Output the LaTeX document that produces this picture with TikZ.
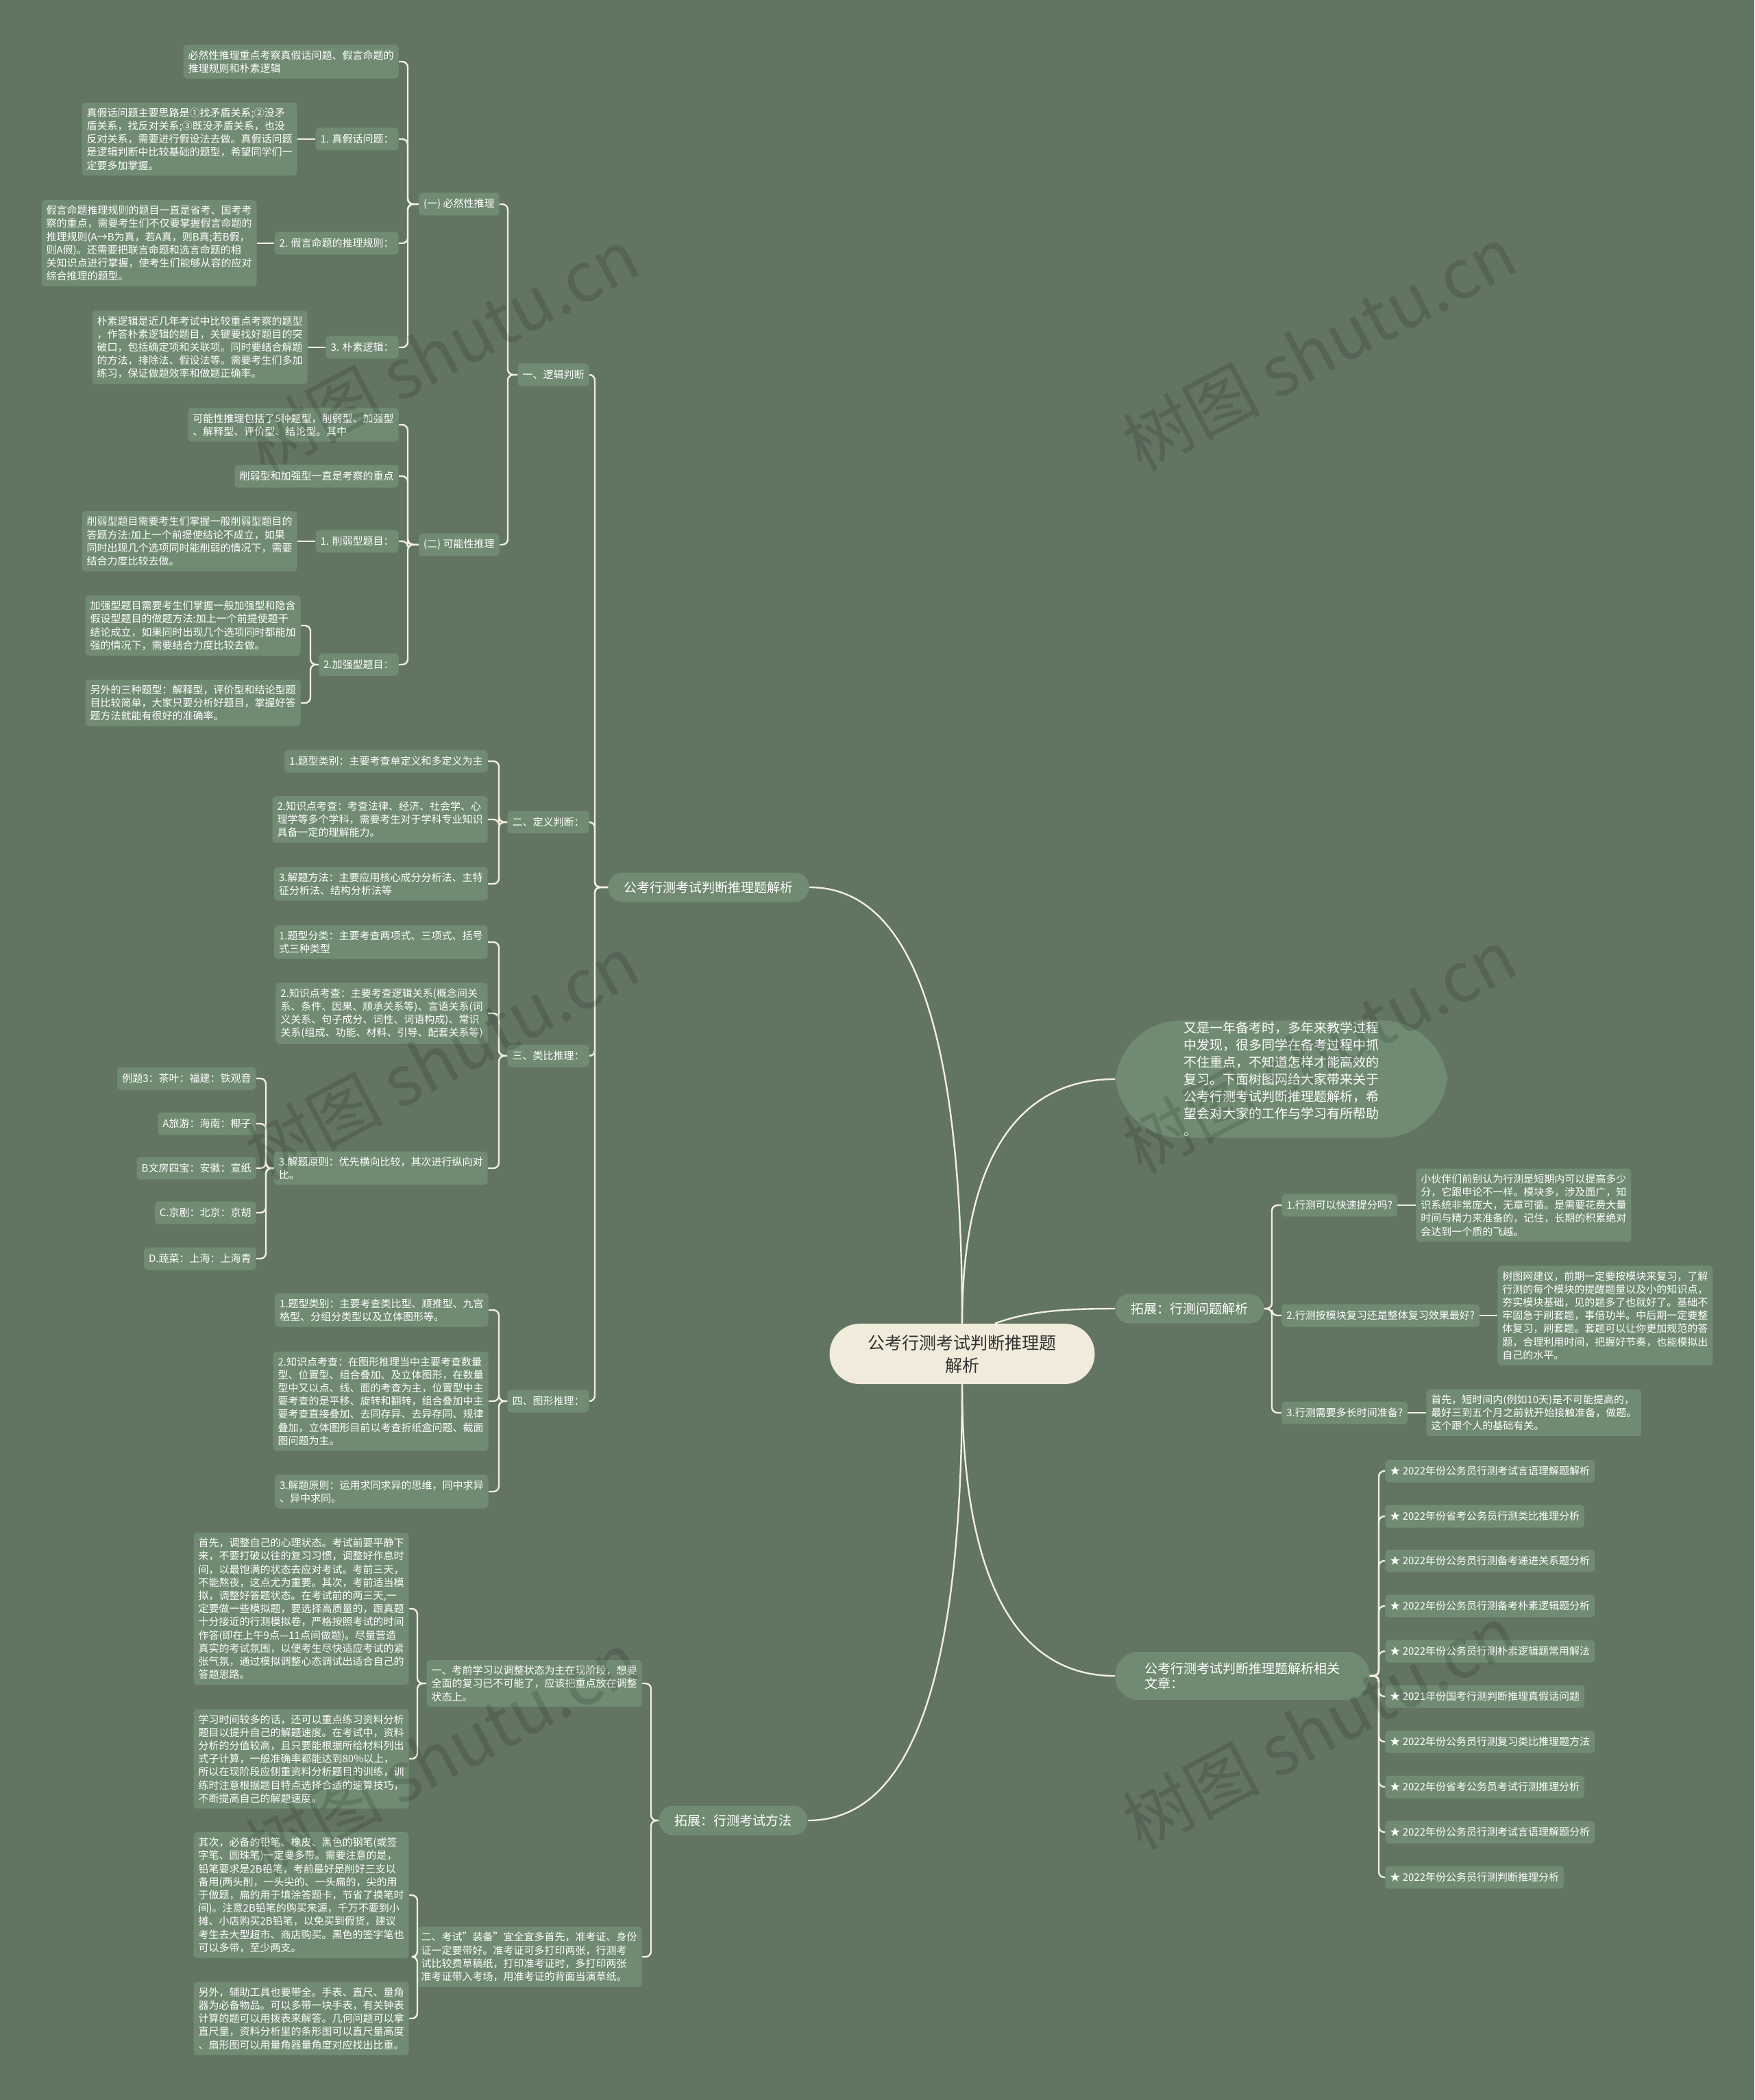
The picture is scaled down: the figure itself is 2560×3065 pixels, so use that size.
\documentclass[tikz,border=0pt]{standalone}
\usepackage{fontspec}
\setmainfont{Noto Sans CJK SC}
\newfontfamily\wmfont{Noto Sans CJK SC}
\definecolor{bgcol}{RGB}{98,116,98}
\definecolor{nodefill}{RGB}{112,139,113}
\definecolor{linecol}{RGB}{243,239,222}
\definecolor{centerfill}{RGB}{240,235,219}
\definecolor{centertext}{RGB}{50,50,50}
\newcommand\mmL[3]{\draw[conn] (#1.west) -- (#1.west -| #2) |- (#3.east);}
\newcommand\mmR[3]{\draw[conn] (#1.east) -- (#1.east -| #2) |- (#3.west);}
\begin{document}
\begin{tikzpicture}[x=0.5pt,y=-0.5pt,
  base/.style={fill=nodefill, text=white, align=left},
  lvl/.style={base, rounded corners=2.5pt, font=\fontsize{7.5}{9.6}\selectfont, inner xsep=3.5pt, inner ysep=4pt, minimum height=16.5pt},
  mainb/.style={base, rounded corners=10.5pt, font=\fontsize{9.5}{11}\selectfont, inner xsep=11.5pt, minimum height=21.5pt},
  conn/.style={draw=linecol, line width=1.2pt, rounded corners=4pt},
  curve/.style={draw=linecol, line width=1.2pt},
  wm/.style={rotate=28, opacity=0.13, text=black, font=\fontsize{50}{50}\selectfont}
]
\fill[bgcol] (0,0) rectangle (2560,3065);
\useasboundingbox (0,0) rectangle (2560,3065);

% bus coordinates
\coordinate (kB1) at (868,0);
\coordinate (kL1) at (741,0);
\coordinate (kL1a) at (595,0);
\coordinate (kL1b2) at (453,0);
\coordinate (kL2) at (728,0);
\coordinate (kL33) at (388,0);
\coordinate (kB2) at (950,0);
\coordinate (kM) at (609,0);
\coordinate (kB3) at (1856,0);
\coordinate (kB4) at (2012,0);

% centre
\node[fill=centerfill, text=centertext, rounded corners=22pt, font=\fontsize{12.5}{16.5}\selectfont, align=center, inner xsep=28pt, inner ysep=8pt] (C) at (1404,1976) {公考行测考试判断推理题\\解析};

% main branches
\node[mainb, anchor=east] (B1) at (1181,1295) {公考行测考试判断推理题解析};
\node[mainb, anchor=east] (B2) at (1179,2657) {拓展：行测考试方法};
\node[base, rounded corners=48pt, font=\fontsize{9.5}{12.5}\selectfont, inner xsep=50pt, inner ysep=1pt, anchor=west] (I) at (1627,1575) {又是一年备考时，多年来教学过程\\中发现，很多同学在备考过程中抓\\不住重点，不知道怎样才能高效的\\复习。下面树图网给大家带来关于\\公考行测考试判断推理题解析，希\\望会对大家的工作与学习有所帮助\\。};
\node[mainb, anchor=west] (B3) at (1627,1910) {拓展：行测问题解析};
\node[mainb, rounded corners=17pt, inner xsep=21.5pt, inner ysep=7.75pt, anchor=west] (B4) at (1627,2446) {公考行测考试判断推理题解析相关\\文章：};

\draw[curve] (C.north) .. controls (1404,1500) and (1330,1295) .. (B1.east);
\draw[curve] (C.south) .. controls (1404,2450) and (1330,2657) .. (B2.east);
\draw[curve] (C.north) .. controls (1404,1700) and (1480,1575) .. (I.west);
\draw[curve] ([xshift=24pt]C.north) .. controls (1500,1914) and (1550,1910) .. (B3.west);
\draw[curve] (C.south) .. controls (1404,2300) and (1480,2446) .. (B4.west);

% ---------- left tree: branch 1 ----------
\node[lvl, anchor=east] (L1) at (860,547) {一、逻辑判断};
\node[lvl, anchor=east] (L2) at (860,1200) {二、定义判断：};
\node[lvl, anchor=east] (L3) at (860,1541) {三、类比推理：};
\node[lvl, anchor=east] (L4) at (860,2045) {四、图形推理：};
\mmL{B1}{kB1}{L1} \mmL{B1}{kB1}{L2} \mmL{B1}{kB1}{L3} \mmL{B1}{kB1}{L4}

\node[lvl, anchor=east] (L1a) at (729,298) {(一) 必然性推理};
\node[lvl, anchor=east] (L1b) at (729,795) {(二) 可能性推理};
\mmL{L1}{kL1}{L1a} \mmL{L1}{kL1}{L1b}

\node[lvl, anchor=east] (nBi) at (582,90) {必然性推理重点考察真假话问题、假言命题的\\推理规则和朴素逻辑};
\node[lvl, anchor=east] (L1a1) at (582,203) {1. 真假话问题：};
\node[lvl, anchor=east] (L1a2) at (582,355) {2. 假言命题的推理规则：};
\node[lvl, anchor=east] (L1a3) at (582,507) {3. 朴素逻辑：};
\mmL{L1a}{kL1a}{nBi} \mmL{L1a}{kL1a}{L1a1} \mmL{L1a}{kL1a}{L1a2} \mmL{L1a}{kL1a}{L1a3}

\node[lvl, anchor=east] (nA1) at (434,203) {真假话问题主要思路是①找矛盾关系;②没矛\\盾关系，找反对关系;③既没矛盾关系，也没\\反对关系，需要进行假设法去做。真假话问题\\是逻辑判断中比较基础的题型，希望同学们一\\定要多加掌握。};
\node[lvl, anchor=east] (nA2) at (375,355) {假言命题推理规则的题目一直是省考、国考考\\察的重点，需要考生们不仅要掌握假言命题的\\推理规则(A→B为真，若A真，则B真;若B假，\\则A假)。还需要把联言命题和选言命题的相\\关知识点进行掌握，使考生们能够从容的应对\\综合推理的题型。};
\node[lvl, anchor=east] (nA3) at (449,507) {朴素逻辑是近几年考试中比较重点考察的题型\\，作答朴素逻辑的题目，关键要找好题目的突\\破口，包括确定项和关联项。同时要结合解题\\的方法，排除法、假设法等。需要考生们多加\\练习，保证做题效率和做题正确率。};
\draw[conn] (L1a1.west) -- (nA1.east);
\draw[conn] (L1a2.west) -- (nA2.east);
\draw[conn] (L1a3.west) -- (nA3.east);

\node[lvl, anchor=east] (nKe) at (582,620) {可能性推理包括了5种题型，削弱型、加强型\\、解释型、评价型、结论型。其中};
\node[lvl, anchor=east] (nXr) at (582,695) {削弱型和加强型一直是考察的重点};
\node[lvl, anchor=east] (L1b1) at (582,790) {1. 削弱型题目：};
\node[lvl, anchor=east] (L1b2) at (582,970) {2.加强型题目：};
\mmL{L1b}{kL1a}{nKe} \mmL{L1b}{kL1a}{nXr} \mmL{L1b}{kL1a}{L1b1} \mmL{L1b}{kL1a}{L1b2}

\node[lvl, anchor=east] (nB1) at (434,790) {削弱型题目需要考生们掌握一般削弱型题目的\\答题方法:加上一个前提使结论不成立，如果\\同时出现几个选项同时能削弱的情况下，需要\\结合力度比较去做。};
\draw[conn] (L1b1.west) -- (nB1.east);
\node[lvl, anchor=east] (nB2a) at (439,913) {加强型题目需要考生们掌握一般加强型和隐含\\假设型题目的做题方法:加上一个前提使题干\\结论成立，如果同时出现几个选项同时都能加\\强的情况下，需要结合力度比较去做。};
\node[lvl, anchor=east] (nB2b) at (439,1026) {另外的三种题型：解释型，评价型和结论型题\\目比较简单，大家只要分析好题目，掌握好答\\题方法就能有很好的准确率。};
\mmL{L1b2}{kL1b2}{nB2a} \mmL{L1b2}{kL1b2}{nB2b}

% definition
\node[lvl, anchor=east] (D1) at (712,1111) {1.题型类别：主要考查单定义和多定义为主};
\node[lvl, anchor=east] (D2) at (712,1196) {2.知识点考查：考查法律、经济、社会学、心\\理学等多个学科，需要考生对于学科专业知识\\具备一定的理解能力。};
\node[lvl, anchor=east] (D3) at (712,1290) {3.解题方法：主要应用核心成分分析法、主特\\征分析法、结构分析法等};
\mmL{L2}{kL2}{D1} \mmL{L2}{kL2}{D2} \mmL{L2}{kL2}{D3}

% analogy
\node[lvl, anchor=east] (E1) at (712,1375) {1.题型分类：主要考查两项式、三项式、括号\\式三种类型};
\node[lvl, anchor=east] (E2) at (712,1479) {2.知识点考查：主要考查逻辑关系(概念间关\\系、条件、因果、顺承关系等)、言语关系(词\\义关系、句子成分、词性、词语构成)、常识\\关系(组成、功能、材料、引导、配套关系等)};
\node[lvl, anchor=east] (E3) at (712,1705) {3.解题原则：优先横向比较，其次进行纵向对\\比。};
\mmL{L3}{kL2}{E1} \mmL{L3}{kL2}{E2} \mmL{L3}{kL2}{E3}

\node[lvl, anchor=east] (X1) at (374,1574) {例题3：茶叶：福建：铁观音};
\node[lvl, anchor=east] (X2) at (374,1640) {A旅游：海南：椰子};
\node[lvl, anchor=east] (X3) at (374,1705) {B文房四宝：安徽：宣纸};
\node[lvl, anchor=east] (X4) at (374,1770) {C.京剧：北京：京胡};
\node[lvl, anchor=east] (X5) at (374,1837) {D.蔬菜：上海：上海青};
\mmL{E3}{kL33}{X1} \mmL{E3}{kL33}{X2} \mmL{E3}{kL33}{X3} \mmL{E3}{kL33}{X4} \mmL{E3}{kL33}{X5}

% figure
\node[lvl, anchor=east] (F1) at (713,1912) {1.题型类别：主要考查类比型、顺推型、九宫\\格型、分组分类型以及立体图形等。};
\node[lvl, anchor=east] (F2) at (713,2045) {2.知识点考查：在图形推理当中主要考查数量\\型、位置型、组合叠加、及立体图形，在数量\\型中又以点、线、面的考查为主，位置型中主\\要考查的是平移、旋转和翻转，组合叠加中主\\要考查直接叠加、去同存异、去异存同、规律\\叠加，立体图形目前以考查折纸盒问题、截面\\图问题为主。};
\node[lvl, anchor=east] (F3) at (713,2177) {3.解题原则：运用求同求异的思维，同中求异\\、异中求同。};
\mmL{L4}{kL2}{F1} \mmL{L4}{kL2}{F2} \mmL{L4}{kL2}{F3}

% ---------- left tree: branch 2 ----------
\node[lvl, anchor=east] (M1) at (937,2457) {一、考前学习以调整状态为主在现阶段，想要\\全面的复习已不可能了，应该把重点放在调整\\状态上。};
\node[lvl, anchor=east] (M2) at (937,2856) {二、考试"装备"宜全宜多首先，准考证、身份\\证一定要带好。准考证可多打印两张，行测考\\试比较费草稿纸，打印准考证时，多打印两张\\准考证带入考场，用准考证的背面当演草纸。};
\mmL{B2}{kB2}{M1} \mmL{B2}{kB2}{M2}

\node[lvl, anchor=east] (M1a) at (597,2348) {首先，调整自己的心理状态。考试前要平静下\\来，不要打破以往的复习习惯，调整好作息时\\间，以最饱满的状态去应对考试。考前三天，\\不能熬夜，这点尤为重要。其次，考前适当模\\拟，调整好答题状态。在考试前的两三天,一\\定要做一些模拟题，要选择高质量的，跟真题\\十分接近的行测模拟卷，严格按照考试的时间\\作答(即在上午9点—11点间做题)。尽量营造\\真实的考试氛围，以便考生尽快适应考试的紧\\张气氛，通过模拟调整心态调试出适合自己的\\答题思路。};
\node[lvl, anchor=east] (M1b) at (597,2567) {学习时间较多的话，还可以重点练习资料分析\\题目以提升自己的解题速度。在考试中，资料\\分析的分值较高，且只要能根据所给材料列出\\式子计算，一般准确率都能达到80\%以上，\\所以在现阶段应侧重资料分析题目的训练，训\\练时注意根据题目特点选择合适的速算技巧，\\不断提高自己的解题速度。};
\mmL{M1}{kM}{M1a} \mmL{M1}{kM}{M1b}

\node[lvl, anchor=east] (M2a) at (597,2766) {其次，必备的铅笔、橡皮、黑色的钢笔(或签\\字笔、圆珠笔)一定要多带。需要注意的是，\\铅笔要求是2B铅笔，考前最好是削好三支以\\备用(两头削，一头尖的、一头扁的，尖的用\\于做题，扁的用于填涂答题卡，节省了换笔时\\间)。注意2B铅笔的购买来源，千万不要到小\\摊、小店购买2B铅笔，以免买到假货，建议\\考生去大型超市、商店购买。黑色的签字笔也\\可以多带，至少两支。};
\node[lvl, anchor=east] (M2b) at (597,2946) {另外，辅助工具也要带全。手表、直尺、量角\\器为必备物品。可以多带一块手表，有关钟表\\计算的题可以用拨表来解答。几何问题可以拿\\直尺量，资料分析里的条形图可以直尺量高度\\、扇形图可以用量角器量角度对应找出比重。};
\mmL{M2}{kM}{M2a} \mmL{M2}{kM}{M2b}

% ---------- right tree ----------
\node[lvl, anchor=west] (Q1) at (1870,1759) {1.行测可以快速提分吗?};
\node[lvl, anchor=west] (Q2) at (1870,1920) {2.行测按模块复习还是整体复习效果最好?};
\node[lvl, anchor=west] (Q3) at (1870,2062) {3.行测需要多长时间准备?};
\mmR{B3}{kB3}{Q1} \mmR{B3}{kB3}{Q2} \mmR{B3}{kB3}{Q3}

\node[lvl, anchor=west] (Q1n) at (2066,1759) {小伙伴们前别认为行测是短期内可以提高多少\\分，它跟申论不一样。模块多，涉及面广，知\\识系统非常庞大，无章可循。是需要花费大量\\时间与精力来准备的，记住，长期的积累绝对\\会达到一个质的飞越。};
\node[lvl, anchor=west] (Q2n) at (2185,1920) {树图网建议，前期一定要按模块来复习，了解\\行测的每个模块的提醒题量以及小的知识点，\\夯实模块基础，见的题多了也就好了。基础不\\牢固急于刷套题，事倍功半。中后期一定要整\\体复习，刷套题。套题可以让你更加规范的答\\题，合理利用时间，把握好节奏，也能模拟出\\自己的水平。};
\node[lvl, anchor=west] (Q3n) at (2081,2062) {首先，短时间内(例如10天)是不可能提高的，\\最好三到五个月之前就开始接触准备，做题。\\这个跟个人的基础有关。};
\draw[conn] (Q1.east) -- (Q1n.west);
\draw[conn] (Q2.east) -- (Q2n.west);
\draw[conn] (Q3.east) -- (Q3n.west);

\node[lvl, anchor=west] (A1) at (2021,2147) {★ 2022年份公务员行测考试言语理解题解析};
\node[lvl, anchor=west] (A2) at (2021,2213) {★ 2022年份省考公务员行测类比推理分析};
\node[lvl, anchor=west] (A3) at (2021,2278) {★ 2022年份公务员行测备考递进关系题分析};
\node[lvl, anchor=west] (A4) at (2021,2344) {★ 2022年份公务员行测备考朴素逻辑题分析};
\node[lvl, anchor=west] (A5) at (2021,2410) {★ 2022年份公务员行测朴素逻辑题常用解法};
\node[lvl, anchor=west] (A6) at (2021,2476) {★ 2021年份国考行测判断推理真假话问题};
\node[lvl, anchor=west] (A7) at (2021,2542) {★ 2022年份公务员行测复习类比推理题方法};
\node[lvl, anchor=west] (A8) at (2021,2608) {★ 2022年份省考公务员考试行测推理分析};
\node[lvl, anchor=west] (A9) at (2021,2674) {★ 2022年份公务员行测考试言语理解题分析};
\node[lvl, anchor=west] (A10) at (2021,2740) {★ 2022年份公务员行测判断推理分析};
\foreach \a in {A1,A2,A3,A4,A5,A6,A7,A8,A9,A10}{\mmR{B4}{kB4}{\a}}

% watermarks
\node[wm] at (645,512) {树图 {\rmfamily shutu.cn}};
\node[wm] at (1925,508) {树图 {\rmfamily shutu.cn}};
\node[wm] at (645,1544) {树图 {\rmfamily shutu.cn}};
\node[wm] at (1925,1534) {树图 {\rmfamily shutu.cn}};
\node[wm] at (645,2560) {树图 {\rmfamily shutu.cn}};
\node[wm] at (1925,2521) {树图 {\rmfamily shutu.cn}};
\end{tikzpicture}
\end{document}
